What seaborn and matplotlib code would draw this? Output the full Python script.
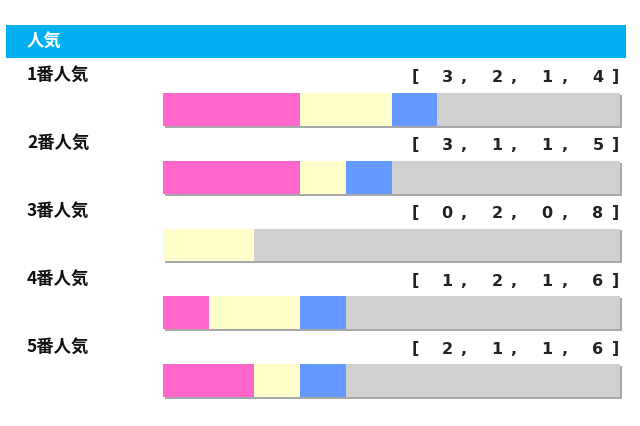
import matplotlib
matplotlib.use("Agg")
import matplotlib.pyplot as plt
import matplotlib.patheffects as pe
from matplotlib.patches import Rectangle
import seaborn as sns
import pandas as pd

sns.set_theme(style="white")
plt.rcParams['font.family'] = ['Noto Sans CJK JP', 'DejaVu Sans']

title = "人気"
categories = ["1番人気", "2番人気", "3番人気", "4番人気", "5番人気"]
first = [3, 3, 0, 1, 2]
second = [2, 1, 2, 2, 1]
third = [1, 1, 0, 1, 1]
other = [4, 5, 8, 6, 6]

colors = {"first": "#ff66cc", "second": "#ffffcc", "third": "#6699ff", "other": "#d0d0d0"}

df = pd.DataFrame({"cat": categories, "first": first, "second": second,
                   "third": third, "other": other})
df["c1"] = df["first"]
df["c2"] = df["c1"] + df["second"]
df["c3"] = df["c2"] + df["third"]
df["c4"] = df["c3"] + df["other"]

W, H = 640, 426
fig = plt.figure(figsize=(W / 100, H / 100), dpi=100)

# overlay axes in pixel coordinates
ov = fig.add_axes([0, 0, 1, 1])
ov.set_xlim(0, W)
ov.set_ylim(H, 0)
ov.axis("off")
ov.add_patch(Rectangle((6, 25), 620, 33, facecolor="#00b0f0", edgecolor="none"))
ov.text(27, 42, title, color="white", fontsize=12.5, fontweight="bold",
        va="center", ha="left")

for i, cat in enumerate(categories):
    y = 76 + 68 * i
    ov.text(27, y, cat, fontsize=12.5, fontweight="bold", va="center", ha="left",
            color="#111111")
    vals = [first[i], second[i], third[i], other[i]]
    fp = dict(fontsize=11.5, fontweight="bold", va="center", ha="center",
              color="#222222", family="DejaVu Sans")
    ov.text(415, y + 1, "[", **fp)
    for xv, v in zip([447, 497, 547, 598], vals):
        ov.text(xv, y + 1, str(v), **fp)
    for xc in [463, 513, 564]:
        ov.text(xc, y + 2, ",", **fp)
    ov.text(616, y + 1, "]", **fp)

# bar axes
left_px, right_px = 163, 620
top_px, bot_px = 75.5, 414.5
bx = fig.add_axes([left_px / W, (H - bot_px) / H, (right_px - left_px) / W,
                   (bot_px - top_px) / H])
bw = 33 / 68

sns.barplot(data=df, x="c4", y="cat", orient="h", color=colors["other"],
            width=bw, ax=bx, saturation=1, linewidth=0)
for p in bx.patches:
    p.set_clip_on(False)
    p.set_path_effects([pe.SimplePatchShadow(offset=(1.4, -1.4),
                                             shadow_rgbFace="#a8a8a8", alpha=1),
                        pe.Normal()])
sns.barplot(data=df, x="c3", y="cat", orient="h", color=colors["third"],
            width=bw, ax=bx, saturation=1, linewidth=0)
sns.barplot(data=df, x="c2", y="cat", orient="h", color=colors["second"],
            width=bw, ax=bx, saturation=1, linewidth=0)
sns.barplot(data=df, x="c1", y="cat", orient="h", color=colors["first"],
            width=bw, ax=bx, saturation=1, linewidth=0)

bx.set_xlim(0, 10)
bx.set_ylim(4.5, -0.5)
bx.axis("off")
bx.patch.set_alpha(0)

fig.savefig("out.png", dpi=100)
